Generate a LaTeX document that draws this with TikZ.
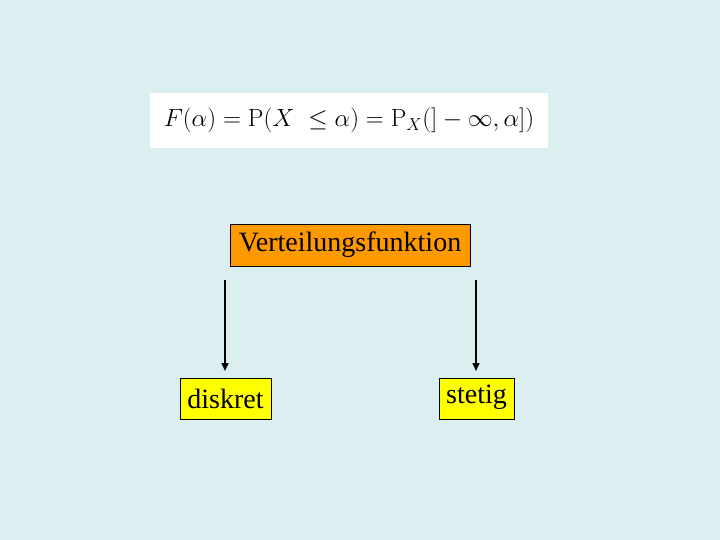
\documentclass[tikz,border=0pt]{standalone}
\usepackage[no-math]{fontspec}
\setmainfont{Liberation Serif}
\usetikzlibrary{arrows.meta}
\definecolor{bg}{HTML}{DBEEF0}
\definecolor{orangebox}{HTML}{FF9900}
\definecolor{yellowbox}{HTML}{FFFF00}
\tikzset{
  box/.style={draw=black, line width=0.8pt, inner sep=0pt, font=\fontsize{28}{32}\selectfont},
  arr/.style={line width=1.5pt, -{Triangle[length=8pt,width=7pt]}}
}
\begin{document}
\begin{tikzpicture}[x=1pt,y=-1pt]
\fill[bg] (0,0) rectangle (720,540);
\useasboundingbox (0,0) rectangle (720,540);
\node[fill=white, minimum width=398pt, minimum height=55pt, inner sep=0pt, font=\fontsize{24.5}{28}\selectfont] (formula) at (349,120.5) {$F(\alpha)=\mathrm{P}(X\;\leq\alpha)=\mathrm{P}_X(]-\infty,\alpha])$};
\node[box, fill=orangebox, minimum width=240pt, minimum height=42pt] (vf) at (350,245) {Verteilungsfunktion};
\node[box, fill=yellowbox, minimum width=91pt, minimum height=41pt] (dk) at (225.5,398.5) {diskret};
\node[box, fill=yellowbox, minimum width=75pt, minimum height=41pt, text depth=9pt] (st) at (476.5,398.5) {stetig};
\coordinate (a1) at (225,280);
\coordinate (b1) at (225,371);
\coordinate (a2) at (476,280);
\coordinate (b2) at (476,371);
\draw[arr] (a1) -- (b1);
\draw[arr] (a2) -- (b2);
\end{tikzpicture}
\end{document}
